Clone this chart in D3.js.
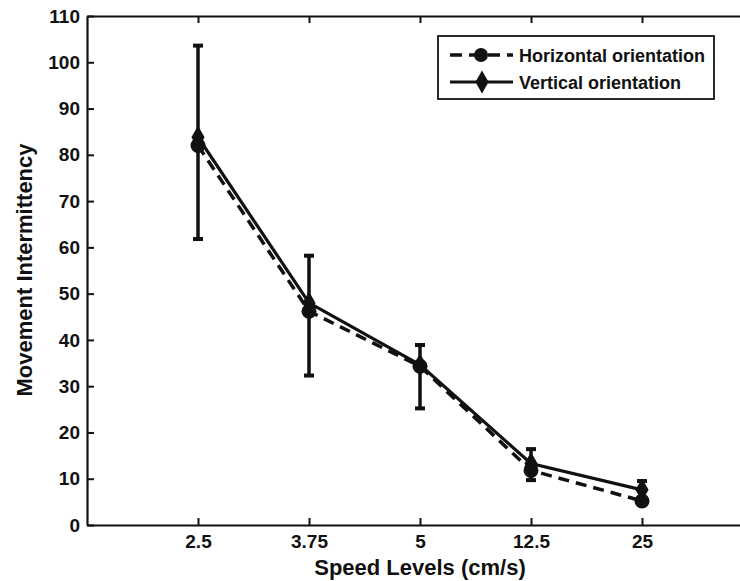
<!DOCTYPE html>
<html>
<head>
<meta charset="utf-8">
<script src="https://cdn.jsdelivr.net/npm/d3@7"></script>
<style>
  body { margin: 0; background: #fff; }
  svg text { font-family: "Liberation Sans", Arial, Helvetica, sans-serif; font-weight: bold; fill: #111; }
</style>
</head>
<body>
<svg id="svg0"></svg>
<script>
var speedLevels = ["2.5", "3.75", "5", "12.5", "25"];
var horizontal = [82, 46.2, 34.3, 11.8, 5.2];
var vertical = [83.8, 48, 34.6, 13.3, 7.6];
var errHigh = [103.6, 58.2, 38.9, 16.4, 9.5];
var errLow = [61.8, 32.3, 25.2, 9.7, 5.5];
var yTicks = [0, 10, 20, 30, 40, 50, 60, 70, 80, 90, 100, 110];

function drawChart(id) {
  var svgWidth = 740, svgHeight = 581;
  var left = 87, right = 753, top = 16, bottom = 525;

  var svg = d3.select(id)
    .attr("width", svgWidth)
    .attr("height", svgHeight);

  var x = d3.scaleLinear().domain([0, speedLevels.length + 1]).range([left, right]);
  var y = d3.scaleLinear().domain([0, 110]).range([bottom, top]);

  // axes, matlab style ticks pointing inward
  var xAxis = d3.axisBottom(x)
    .tickValues(d3.range(1, speedLevels.length + 1))
    .tickFormat(i => speedLevels[i - 1])
    .tickSizeInner(-7).tickSizeOuter(0).tickPadding(10);
  var gx = svg.append("g")
    .attr("transform", `translate(0, ${bottom})`)
    .call(xAxis);

  var yAxis = d3.axisLeft(y)
    .tickValues(yTicks)
    .tickSizeInner(-7).tickSizeOuter(0).tickPadding(7);
  var gy = svg.append("g")
    .attr("transform", `translate(${left}, 0)`)
    .call(yAxis);

  var xTop = d3.axisTop(x)
    .tickValues(d3.range(1, speedLevels.length + 1))
    .tickFormat("")
    .tickSizeInner(-7).tickSizeOuter(0);
  var gt = svg.append("g")
    .attr("transform", `translate(0, ${top})`)
    .call(xTop);

  [gx, gy, gt].forEach(g => {
    g.select(".domain").attr("stroke", "#111").attr("stroke-width", 2.2);
    g.selectAll(".tick line").attr("stroke", "#111").attr("stroke-width", 2);
    g.selectAll(".tick text").style("font-size", "19px").attr("fill", "#111");
  });

  // error bars
  var eb = svg.append("g");
  speedLevels.forEach((s, i) => {
    var cx = x(i + 1);
    eb.append("line")
      .attr("x1", cx).attr("x2", cx)
      .attr("y1", y(errLow[i])).attr("y2", y(errHigh[i]))
      .attr("stroke", "#111").attr("stroke-width", 3.5);
    [errLow[i], errHigh[i]].forEach(v => {
      eb.append("line")
        .attr("x1", cx - 5).attr("x2", cx + 5)
        .attr("y1", y(v)).attr("y2", y(v))
        .attr("stroke", "#111").attr("stroke-width", 4);
    });
  });

  var line = d3.line()
    .x((d, i) => x(i + 1))
    .y(d => y(d));

  svg.append("path")
    .datum(horizontal)
    .attr("d", line)
    .attr("fill", "none")
    .attr("stroke", "#111")
    .attr("stroke-width", 3.5)
    .attr("stroke-dasharray", "11,7");

  svg.append("path")
    .datum(vertical)
    .attr("d", line)
    .attr("fill", "none")
    .attr("stroke", "#111")
    .attr("stroke-width", 3.2);

  svg.selectAll(".hdot")
    .data(horizontal)
    .enter()
    .append("circle")
    .attr("class", "hdot")
    .attr("cx", (d, i) => x(i + 1))
    .attr("cy", d => y(d))
    .attr("r", 7.5)
    .attr("fill", "#111");

  var diamond = d3.symbol().type(d3.symbolDiamond).size(150);
  svg.selectAll(".vdia")
    .data(vertical)
    .enter()
    .append("path")
    .attr("class", "vdia")
    .attr("d", diamond)
    .attr("transform", (d, i) => `translate(${x(i + 1)}, ${y(d)})`)
    .attr("fill", "#111");

  // axis titles
  svg.append("text")
    .attr("x", x(3))
    .attr("y", 575)
    .attr("text-anchor", "middle")
    .style("font-size", "22px")
    .text("Speed Levels (cm/s)");

  svg.append("text")
    .attr("transform", "translate(32, 270) rotate(-90)")
    .attr("text-anchor", "middle")
    .style("font-size", "22px")
    .text("Movement Intermittency");

  // legend
  var lg = svg.append("g");
  lg.append("rect")
    .attr("x", 438).attr("y", 36)
    .attr("width", 276).attr("height", 63)
    .attr("fill", "#fff")
    .attr("stroke", "#111").attr("stroke-width", 1.8);

  lg.append("line")
    .attr("x1", 450).attr("x2", 513)
    .attr("y1", 55).attr("y2", 55)
    .attr("stroke", "#111").attr("stroke-width", 3.5)
    .attr("stroke-dasharray", "12,7");
  lg.append("circle")
    .attr("cx", 481).attr("cy", 55).attr("r", 7)
    .attr("fill", "#111");
  lg.append("text")
    .attr("x", 519).attr("y", 61.5)
    .style("font-size", "18px")
    .text("Horizontal orientation");

  lg.append("line")
    .attr("x1", 450).attr("x2", 513)
    .attr("y1", 82).attr("y2", 82)
    .attr("stroke", "#111").attr("stroke-width", 3.2);
  lg.append("path")
    .attr("d", diamond)
    .attr("transform", "translate(482, 82)")
    .attr("fill", "#111");
  lg.append("text")
    .attr("x", 519).attr("y", 88.5)
    .style("font-size", "18px")
    .text("Vertical orientation");
}

window.addEventListener('load', function () {
  drawChart('#svg0');
});
</script>
</body>
</html>
